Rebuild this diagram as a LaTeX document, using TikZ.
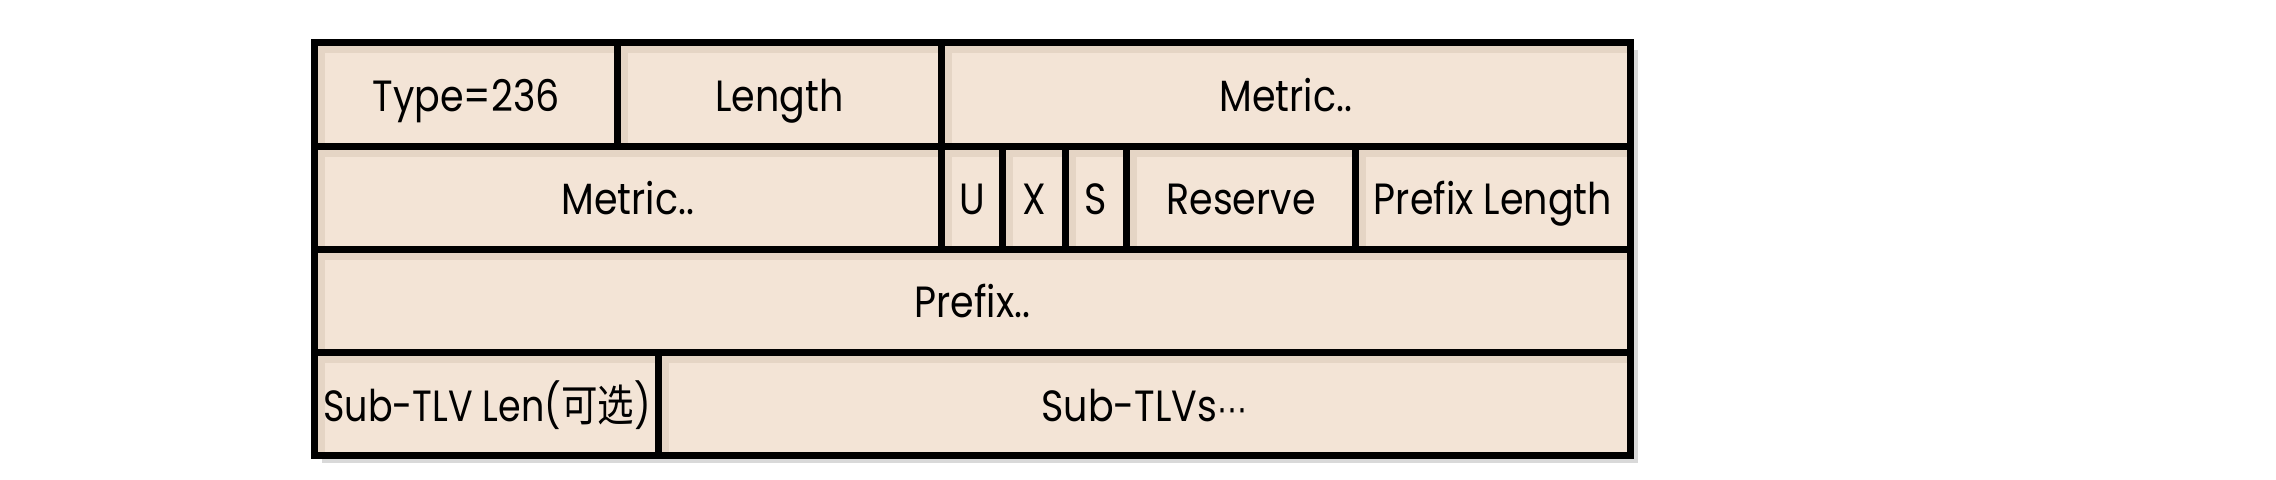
\documentclass[tikz,border=0pt]{standalone}
\usepackage{fontspec}
\usepackage{graphicx}
\setmainfont{Poppins}
\newfontfamily\cjk{Noto Sans CJK SC}
\newfontfamily\symfont{DejaVu Sans}
\usetikzlibrary{positioning}

\definecolor{cellfill}{HTML}{F3E4D6}
\definecolor{cellshade}{HTML}{E5D5C5}
\definecolor{outshade}{HTML}{D9D9D9}

\tikzset{
  rule/.style={line width=3.5pt, line cap=rect},
  lbl/.style={inner sep=0pt, anchor=base, font=\fontsize{19}{22}\selectfont}
}
\newcommand{\tall}[1]{\scalebox{1}[1.15]{#1}}

% all the lines of the TLV frame
\newcommand{\tlvlines}[1]{%
 \draw[rule,#1](314.5,42.5) rectangle (1630.5,455.5);
 \draw[rule,#1](314.5,146)--(1630.5,146);
 \draw[rule,#1](314.5,249)--(1630.5,249);
 \draw[rule,#1](314.5,352)--(1630.5,352);
 \draw[rule,#1](617.5,42.5)--(617.5,146);
 \draw[rule,#1](941.5,42.5)--(941.5,249);
 \draw[rule,#1](1002.5,146)--(1002.5,249);
 \draw[rule,#1](1065.5,146)--(1065.5,249);
 \draw[rule,#1](1126.5,146)--(1126.5,249);
 \draw[rule,#1](1355.5,146)--(1355.5,249);
 \draw[rule,#1](658.5,352)--(658.5,455.5);
}

\begin{document}
\begin{tikzpicture}[x=0.5pt,y=-0.5pt]
 \useasboundingbox (0,0) rectangle (2276,479);
 \fill[outshade](321.5,49.5) rectangle (1637.5,462.5);
 \fill[cellfill](314.5,42.5) rectangle (1630.5,455.5);
 \begin{scope}
  \clip (314.5,42.5) rectangle (1630.5,455.5);
  \begin{scope}[shift={(7,7)}]
   \tlvlines{cellshade}
  \end{scope}
 \end{scope}
 \tlvlines{black}
 % labels, placed by their baseline
 \foreach \nm/\x/\y/\t in {type/466/111/{Type=236}, len/779.5/111/{Length}, metrica/1286/111/{Metric..},
   metricb/628/214.5/{Metric..}, ubit/972/214.5/{U}, xbit/1034/214.5/{X}, sbit/1096/214.5/{S},
   resv/1241/214.5/{Reserve}, plen/1493/214.5/{Prefix Length}, prefix/972.5/317.5/{Prefix..},
   subtlvs/1144.5/421/{Sub-TLVs{\symfont\fontsize{15}{18}\selectfont ⋯}}}{
  \node[lbl] (\nm) at (\x,\y) {\tall{\t}};
 }
 \node[lbl] (sublen) at (487,421) {\scalebox{0.96}[1.15]{Sub-TLV Len({\cjk 可选})}};
\end{tikzpicture}
\end{document}
